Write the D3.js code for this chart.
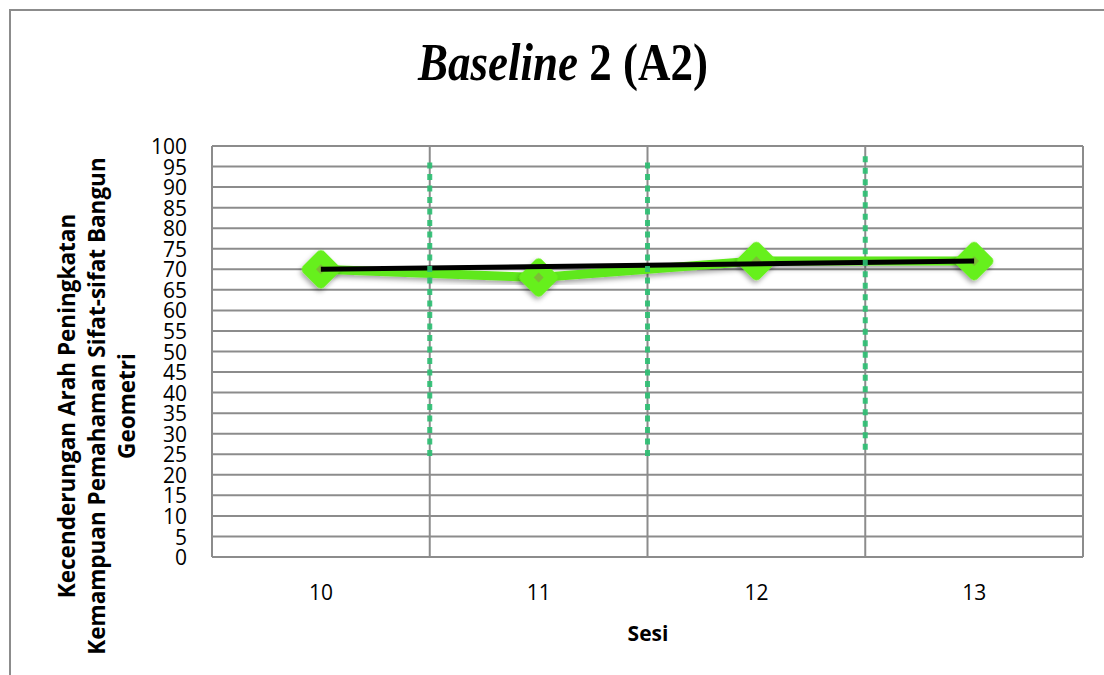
<!DOCTYPE html>
<html>
<head>
<meta charset="utf-8">
<script src="https://cdn.jsdelivr.net/npm/d3@7"></script>
<style>
  html, body { margin: 0; padding: 0; background: #fff; }
  svg { display: block; }
</style>
</head>
<body>
<svg id="chart" width="1104" height="675"></svg>
<script>
// ---- data ----
const categories = ["10", "11", "12", "13"];
const scores = [70, 68, 72, 72];
const trendStart = 70;
const trendEnd = 72;
const yTicks = d3.range(0, 101, 5);
const dividerTop = [96, 96, 97.5];
const dividerBottom = [23.5, 24, 25.5];
const titleItalic = "Baseline";
const titleRest = " 2 (A2)";
const xTitle = "Sesi";
const yTitleLines = ["Kecenderungan Arah Peningkatan", "Kemampuan Pemahaman Sifat-sifat Bangun", "Geometri"];

const svg = d3.select("#chart");
const W = 1104, H = 675;
const plot = { left: 212, right: 1083, top: 146, bottom: 557 };

const x = d3.scaleBand().domain(categories).range([plot.left, plot.right]).padding(0);
const y = d3.scaleLinear().domain([0, 100]).range([plot.bottom, plot.top]);
const grid = "#8c8c8c";

// defs
const defs = svg.append("defs");
const f = defs.append("filter").attr("id", "shadow").attr("x", "-30%").attr("y", "-30%").attr("width", "160%").attr("height", "170%");
f.append("feDropShadow").attr("dx", 1).attr("dy", 3).attr("stdDeviation", 2.5).attr("flood-color", "#000").attr("flood-opacity", 0.35);

// outer frame
svg.append("path").attr("d", `M10,${H} L10,10 L${W},10`).attr("fill", "none").attr("stroke", grid).attr("stroke-width", 2);

// title
const title = svg.append("text")
  .attr("text-anchor", "middle")
  .attr("font-family", "'Liberation Serif', 'DejaVu Serif', serif")
  .attr("font-weight", "bold")
  .attr("font-size", 52)
  .attr("fill", "#000");
title.append("tspan").attr("font-style", "italic").text(titleItalic);
title.append("tspan").text(titleRest);
const tw = title.node().getComputedTextLength();
const sx = 290 / tw;
title.attr("transform", `translate(563,80) scale(${sx},1)`);

// horizontal gridlines
svg.append("g").selectAll("line").data(yTicks).join("line")
  .attr("x1", plot.left).attr("x2", plot.right)
  .attr("y1", d => y(d)).attr("y2", d => y(d))
  .attr("stroke", grid).attr("stroke-width", 2);

// vertical gridlines at category boundaries
const bounds = categories.map(c => x(c)).concat([x(categories[categories.length - 1]) + x.bandwidth()]);
svg.append("g").selectAll("line").data(bounds).join("line")
  .attr("x1", d => d).attr("x2", d => d)
  .attr("y1", y(100)).attr("y2", y(0))
  .attr("stroke", grid).attr("stroke-width", 2);

// y axis labels
const yAxis = d3.axisLeft(y).tickValues(yTicks).tickSize(0).tickPadding(0);
const ya = svg.append("g").attr("transform", `translate(187,0)`).call(yAxis);
ya.select(".domain").remove();
ya.selectAll("text")
  .attr("font-family", "'Open Sans', 'Liberation Sans', sans-serif")
  .attr("font-size", 21).attr("fill", "#000").attr("dy", "0.36em");

// x axis labels
const xAxis = d3.axisBottom(x).tickSize(0).tickPadding(0);
const xa = svg.append("g").attr("transform", `translate(0,585)`).call(xAxis);
xa.select(".domain").remove();
xa.selectAll("text")
  .attr("font-family", "'Open Sans', 'Liberation Sans', sans-serif")
  .attr("font-size", 21).attr("fill", "#000").attr("dy", "0.71em");

// x title
svg.append("text").attr("x", 648).attr("y", 641).attr("text-anchor", "middle")
  .attr("font-family", "'Open Sans', 'Liberation Sans', sans-serif")
  .attr("font-weight", "bold").attr("font-size", 21).text(xTitle);

// y title
const yt = svg.append("text")
  .attr("transform", "translate(0,406) rotate(-90)")
  .attr("text-anchor", "middle")
  .attr("font-family", "'Open Sans', 'Liberation Sans', sans-serif")
  .attr("font-weight", "bold").attr("font-size", 22.5).attr("fill", "#000");
yTitleLines.forEach((t, i) => {
  yt.append("tspan").attr("x", 0).attr("y", 75 + i * 30).text(t);
});

const cx = d => x(d) + x.bandwidth() / 2;

// data line
const line = d3.line().x((d, i) => cx(categories[i])).y(d => y(d));
svg.append("path").datum(scores)
  .attr("d", line)
  .attr("fill", "none").attr("stroke", "#5fe81a").attr("stroke-width", 9)
  .attr("stroke-linejoin", "round")
  .attr("filter", "url(#shadow)");

// markers
const mk = svg.append("g").selectAll("g").data(scores).join("g")
  .attr("transform", (d, i) => `translate(${cx(categories[i])},${y(d)})`);
mk.append("rect")
  .attr("x", -15).attr("y", -15).attr("width", 30).attr("height", 30)
  .attr("rx", 5).attr("ry", 5)
  .attr("transform", "rotate(45)")
  .attr("fill", "#66f01a")
  .attr("filter", "url(#shadow)");
mk.append("rect")
  .attr("x", -3.5).attr("y", -3.5).attr("width", 7).attr("height", 7)
  .attr("transform", "rotate(45)")
  .attr("fill", "#8a9a4a").attr("opacity", 0.6);

// trend line
const trend = [trendStart, trendEnd];
const tIdx = [0, categories.length - 1];
svg.append("line")
  .attr("x1", cx(categories[tIdx[0]])).attr("y1", y(trend[0]))
  .attr("x2", cx(categories[tIdx[1]])).attr("y2", y(trend[1]))
  .attr("stroke", "#000").attr("stroke-width", 5);

// dotted phase dividers
svg.append("g").selectAll("line").data(dividerTop).join("line")
  .attr("x1", (d, i) => bounds[i + 1]).attr("x2", (d, i) => bounds[i + 1])
  .attr("y1", d => y(d)).attr("y2", (d, i) => y(dividerBottom[i]))
  .attr("stroke", "#2fbf74").attr("stroke-width", 5)
  .attr("stroke-dasharray", "6 5.5").attr("opacity", 0.92);
</script>
</body>
</html>
